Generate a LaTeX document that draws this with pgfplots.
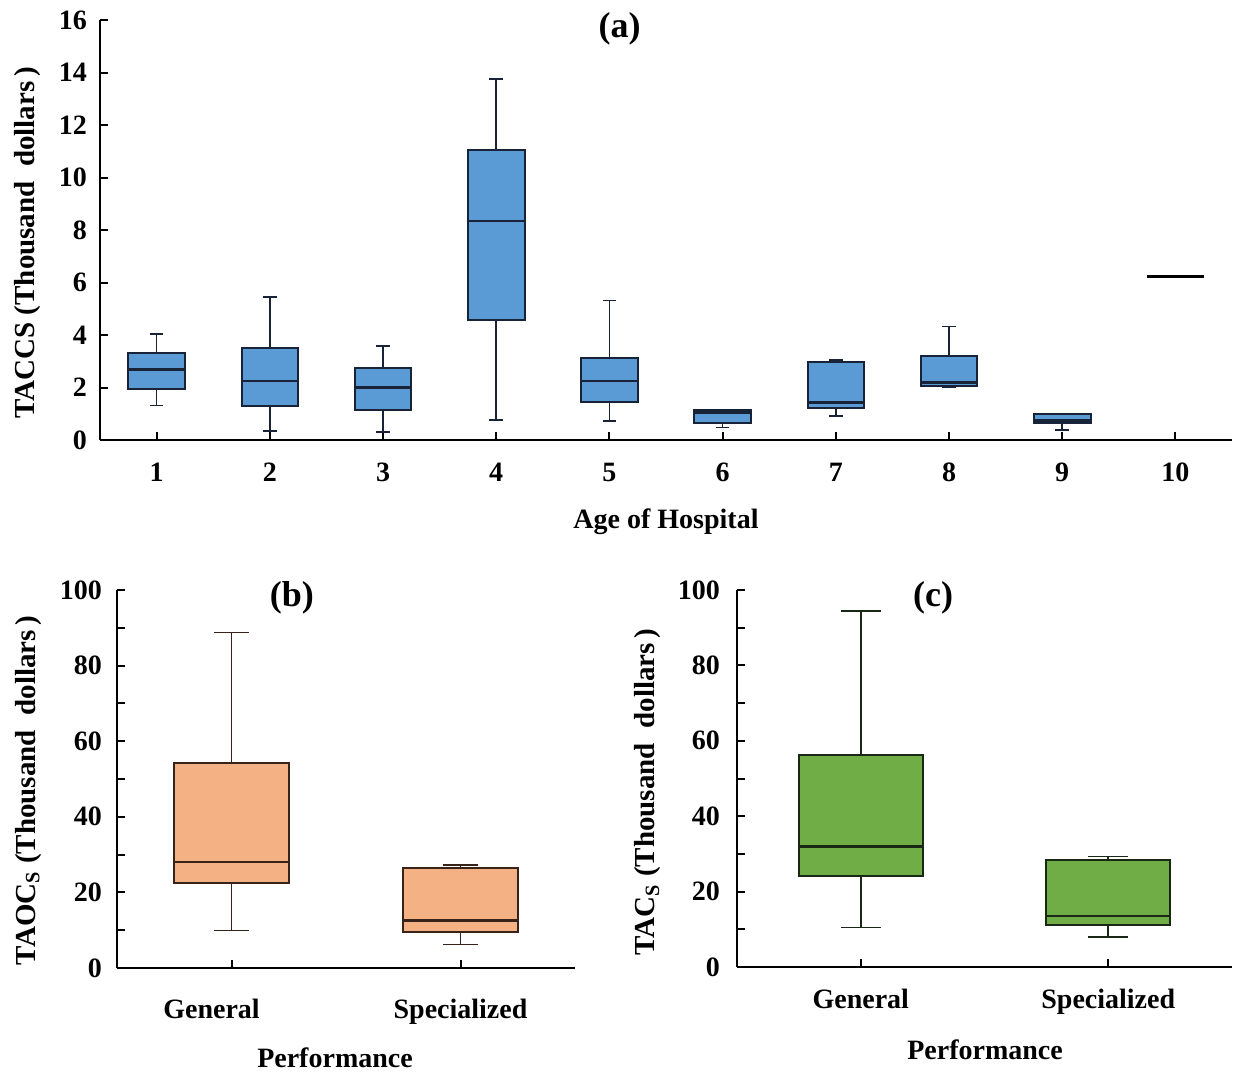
\documentclass[border=0pt]{standalone}
\usepackage{fontspec}
\setmainfont{Liberation Serif}
\usepackage{pgfplots}
\pgfplotsset{compat=1.18}
\usepgfplotslibrary{statistics}
\definecolor{bxblue}{RGB}{91,155,213}
\definecolor{bxorange}{RGB}{244,177,131}
\definecolor{bxgreen}{RGB}{112,173,71}
\definecolor{edgeA}{RGB}{25,35,55}
\definecolor{edgeB}{RGB}{55,35,25}
\definecolor{edgeC}{RGB}{25,40,20}
\pgfplotsset{
  panel/.style={
    scale only axis,
    axis lines*=left,
    axis line style={line width=1.3pt},
    tick style={line width=1pt, black},
    major tick length=4pt, minor tick length=4pt,
    tick align=inside,
    /pgf/number format/assume math mode=true,
    ticklabel style={font=\bfseries\fontsize{14}{16}\selectfont},
    xlabel style={font=\bfseries\fontsize{14}{16}\selectfont, anchor=center},
    ylabel style={font=\bfseries\fontsize{14.5}{16}\selectfont, anchor=center},
    clip=false,
    boxplot/draw direction=y,
  },
  bx/.style={line width=1pt, boxplot/every whisker/.style={line width=0.85pt}, boxplot/every median/.style={line width=1.3pt}},
}
\begin{document}
\begin{tikzpicture}
\useasboundingbox (0,0) rectangle (620pt,-535.5pt);
% ---------------- (a)
\begin{axis}[panel,
  at={(50pt,-220pt)}, anchor=south west,
  width=566pt, height=210pt,
  xmin=0.5, xmax=10.5, ymin=0, ymax=16,
  xtick={1,...,10}, ytick={0,2,...,16},
  xticklabel style={yshift=-8pt},
  yticklabel style={xshift=-3pt},
  xlabel={Age of Hospital},
  xlabel style={at={(axis description cs:0.5,-0.195)}},
  ylabel={TACCS (Thousand\ \ dollars\,)},
  ylabel style={at={(axis description cs:-0.064,0.47)}},
]
\addplot[bx, fill=bxblue, draw=edgeA, boxplot prepared={draw position=1, lower whisker=1.31, lower quartile=1.96, median=2.68, upper quartile=3.33, upper whisker=4.05, box extend=0.5, whisker extend=0.12}] coordinates {};
\addplot[bx, fill=bxblue, draw=edgeA, boxplot prepared={draw position=2, lower whisker=0.35, lower quartile=1.31, median=2.25, upper quartile=3.51, upper whisker=5.46, box extend=0.5, whisker extend=0.12}] coordinates {};
\addplot[bx, fill=bxblue, draw=edgeA, boxplot prepared={draw position=3, lower whisker=0.31, lower quartile=1.15, median=2.01, upper quartile=2.76, upper whisker=3.59, box extend=0.5, whisker extend=0.12}] coordinates {};
\addplot[bx, fill=bxblue, draw=edgeA, boxplot prepared={draw position=4, lower whisker=0.77, lower quartile=4.58, median=8.35, upper quartile=11.04, upper whisker=13.74, box extend=0.5, whisker extend=0.12}] coordinates {};
\addplot[bx, fill=bxblue, draw=edgeA, boxplot prepared={draw position=5, lower whisker=0.73, lower quartile=1.46, median=2.25, upper quartile=3.12, upper whisker=5.32, box extend=0.5, whisker extend=0.12}] coordinates {};
\addplot[bx, fill=bxblue, draw=edgeA, boxplot prepared={draw position=6, lower whisker=0.48, lower quartile=0.63, median=1.04, upper quartile=1.15, upper whisker=1.15, box extend=0.5, whisker extend=0.12}] coordinates {};
\addplot[bx, fill=bxblue, draw=edgeA, boxplot prepared={draw position=7, lower whisker=0.91, lower quartile=1.23, median=1.42, upper quartile=2.96, upper whisker=3.04, box extend=0.5, whisker extend=0.12}] coordinates {};
\addplot[bx, fill=bxblue, draw=edgeA, boxplot prepared={draw position=8, lower whisker=2.01, lower quartile=2.04, median=2.19, upper quartile=3.20, upper whisker=4.32, box extend=0.5, whisker extend=0.12}] coordinates {};
\addplot[bx, fill=bxblue, draw=edgeA, boxplot prepared={draw position=9, lower whisker=0.39, lower quartile=0.63, median=0.74, upper quartile=0.98, upper whisker=0.98, box extend=0.5, whisker extend=0.12}] coordinates {};
\addplot[bx, fill=bxblue, draw=black, boxplot prepared={draw position=10, lower whisker=6.24, lower quartile=6.24, median=6.24, upper quartile=6.24, upper whisker=6.24, box extend=0.5, whisker extend=0.12}] coordinates {};
\node[font=\bfseries\fontsize{18}{20}\selectfont] at (axis description cs:0.459,0.98) {(a)};
\end{axis}
% ---------------- (b)
\begin{axis}[panel,
  at={(58.5pt,-484pt)}, anchor=south west,
  width=229pt, height=189pt,
  xmin=0.5, xmax=2.5, ymin=0, ymax=100,
  xtick={1,2}, xticklabels={{General\hspace*{20pt}},Specialized},
  ytick={0,20,...,100}, minor ytick={10,30,...,90},
  xticklabel style={yshift=-12pt},
  yticklabel style={xshift=-4pt},
  xlabel={Performance},
  xlabel style={at={(axis description cs:0.476,-0.238)}},
  ylabel={TAOC\textsubscript{S} (Thousand\ \ dollars\,)},
  ylabel style={at={(axis description cs:-0.194,0.47)}},
]
\addplot[bx, fill=bxorange, draw=edgeB, boxplot prepared={draw position=1, lower whisker=9.9, lower quartile=22.6, median=28.1, upper quartile=54.3, upper whisker=88.8, box extend=0.5, whisker extend=0.15}] coordinates {};
\addplot[bx, fill=bxorange, draw=edgeB, boxplot prepared={draw position=2, lower whisker=6.2, lower quartile=9.6, median=12.6, upper quartile=26.4, upper whisker=27.3, box extend=0.5, whisker extend=0.15}] coordinates {};
\node[font=\bfseries\fontsize{18}{20}\selectfont] at (axis description cs:0.382,0.979) {(b)};
\end{axis}
% ---------------- (c)
\begin{axis}[panel,
  at={(368.5pt,-483.5pt)}, anchor=south west,
  width=247.5pt, height=188.5pt,
  xmin=0.5, xmax=2.5, ymin=0, ymax=100,
  xtick={1,2}, xticklabels={General,Specialized},
  ytick={0,20,...,100}, minor ytick={10,30,...,90},
  xticklabel style={yshift=-7.5pt},
  yticklabel style={xshift=-5pt},
  xlabel={Performance},
  xlabel style={at={(axis description cs:0.501,-0.22)}},
  ylabel={TAC\textsubscript{S} (Thousand\ \ dollars\,)},
  ylabel style={at={(axis description cs:-0.18,0.464)}},
]
\addplot[bx, fill=bxgreen, draw=edgeC, boxplot prepared={draw position=1, lower whisker=10.5, lower quartile=24.1, median=31.9, upper quartile=56.2, upper whisker=94.5, box extend=0.5, whisker extend=0.16}] coordinates {};
\addplot[bx, fill=bxgreen, draw=edgeC, boxplot prepared={draw position=2, lower whisker=7.9, lower quartile=11.2, median=13.5, upper quartile=28.3, upper whisker=29.3, box extend=0.5, whisker extend=0.16}] coordinates {};
\node[font=\bfseries\fontsize{18}{20}\selectfont] at (axis description cs:0.396,0.979) {(c)};
\end{axis}
\end{tikzpicture}
\end{document}
